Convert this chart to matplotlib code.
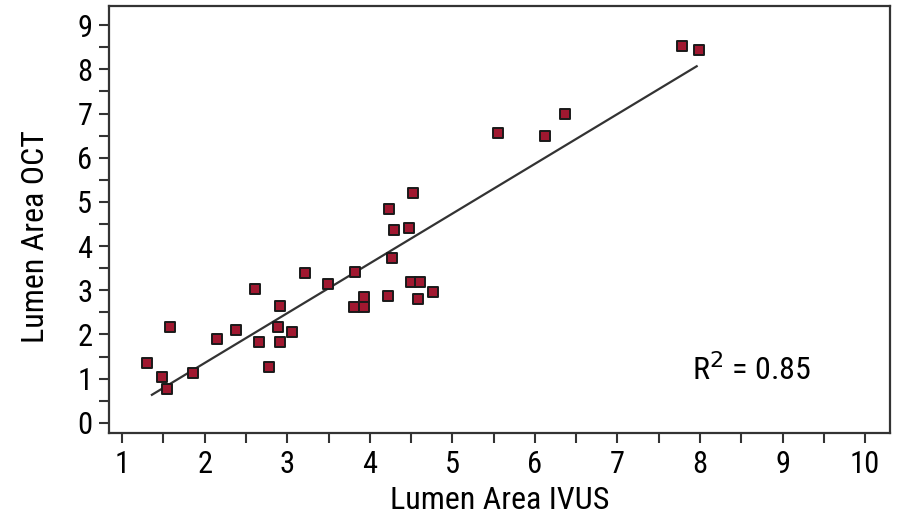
import numpy as np
import matplotlib
matplotlib.use('Agg')
import matplotlib.pyplot as plt
from matplotlib import font_manager as fm
from matplotlib.ticker import MultipleLocator

# lumen area measured by IVUS (x) and OCT (y)
ivus = [1.30, 1.48, 1.54, 1.58, 1.86, 2.15, 2.38, 2.61, 2.66, 2.78,
        2.89, 2.91, 2.91, 3.06, 3.22, 3.49, 3.81, 3.82, 3.93, 3.93,
        4.23, 4.22, 4.27, 4.29, 4.47, 4.52, 4.50, 4.61, 4.58, 4.77,
        5.55, 6.12, 6.36, 7.78, 7.99]
oct_ = [1.36, 1.04, 0.77, 2.17, 1.13, 1.90, 2.10, 3.03, 1.83, 1.27,
        2.17, 2.65, 1.83, 2.06, 3.39, 3.14, 2.62, 3.42, 2.85, 2.62,
        4.84, 2.87, 3.73, 4.37, 4.41, 5.20, 3.19, 3.19, 2.81, 2.96,
        6.56, 6.49, 6.99, 8.53, 8.44]
line_x = [1.36, 7.96]
r2_text = 'R$^2$ = 0.85'

# look for a narrow sans face, fall back to Liberation Sans
narrow = None
for want in ['Liberation Sans Narrow', 'Arial Narrow', 'Roboto Condensed']:
    if any(f.name == want for f in fm.fontManager.ttflist):
        narrow = want
        break
if narrow is None:
    cond = [f for f in fm.fontManager.ttflist
            if f.stretch in ('condensed', 'semi-condensed') and f.style == 'normal'
            and f.weight in (400, 'normal', 'regular')]
    if cond:
        narrow = cond[0].name
        plt.rcParams['font.stretch'] = cond[0].stretch
plt.rcParams['font.family'] = [narrow or 'Liberation Sans', 'DejaVu Sans']
cond_ok = narrow is not None

x = np.array(ivus)
y = np.array(oct_)
slope, icpt = np.polyfit(x, y, 1)
lx = np.array(line_x)

fig = plt.figure(figsize=(8.97, 5.17), dpi=100)
ax = fig.add_axes([0.1215, 0.1625, 0.8705, 0.8255])

ax.plot(lx, slope * lx + icpt, color='#333333', lw=1.6, zorder=2)
ax.scatter(x, y, marker='s', s=62, facecolor='#A01830', edgecolor='#1a1a1a',
           linewidth=1.4, zorder=3)

ax.set_xlim(0.84, 10.3)
ax.set_ylim(-0.23, 9.43)
ax.xaxis.set_major_locator(MultipleLocator(1))
ax.xaxis.set_minor_locator(MultipleLocator(0.5))
ax.yaxis.set_major_locator(MultipleLocator(1))
ax.yaxis.set_minor_locator(MultipleLocator(0.5))

tsize = 22 if cond_ok else 21
lsize = 23 if cond_ok else 20
ax.tick_params(which='both', direction='out', length=7, width=1.5, color='#333333')
ax.tick_params(axis='both', labelsize=tsize, pad=5)
for sp in ax.spines.values():
    sp.set_linewidth(1.6)
    sp.set_color('#333333')

ax.set_xlabel('Lumen Area IVUS', fontsize=lsize, labelpad=5.5)
ax.set_ylabel('Lumen Area OCT', fontsize=lsize)
ax.yaxis.set_label_coords(-0.076, 0.46)

ax.text(7.9, 1.2, r2_text, fontsize=23 if cond_ok else 20, va='center', ha='left')

fig.savefig('out.png', dpi=100)
